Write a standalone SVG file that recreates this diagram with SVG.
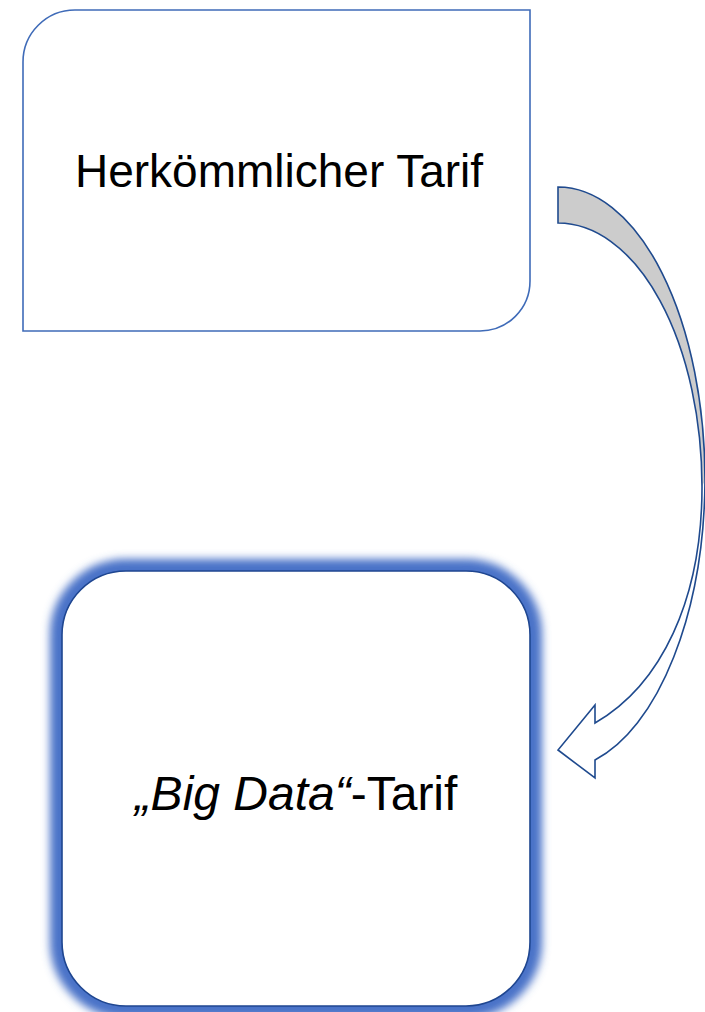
<svg xmlns="http://www.w3.org/2000/svg" width="705" height="1012" viewBox="0 0 705 1012">
  <style>
    .lbl { font-family: "Liberation Sans", Arial, sans-serif; fill: #000; }
    .box1 { fill: #fff; stroke: #3F6BB8; stroke-width: 1.6; }
    .box2 { fill: #fff; stroke: #1F4690; stroke-width: 1.6; }
    .arrow { stroke: #1F4A8E; stroke-width: 1.6; stroke-linejoin: miter; fill: none; }
  </style>
  <defs>
    <filter id="glow" x="-10%" y="-10%" width="120%" height="120%">
      <feGaussianBlur stdDeviation="4"/>
    </filter>
  </defs>
  <rect width="705" height="1012" fill="#fff"/>

  <g id="node-herkoemmlich">
    <path class="box1" d="M23,62 A52,52 0 0 1 75,10 L530,10 L530,281 A50,50 0 0 1 480,331 L23,331 Z"/>
    <text class="lbl" x="279" y="187" font-size="46" text-anchor="middle">Herkömmlicher Tarif</text>
  </g>

  <g id="connectors">
    <path fill="#fff" stroke="none" d="M558,187 A147,293 0 0 1 705,480 A147,293 0 0 1 595,760 L595,778 L558,750 L595,705 L595,723 C661,685 702,600 702,487 A144,264 0 0 0 558,223 Z"/>
    <path fill="#CCCCCC" stroke="none" d="M558,187 A147,293 0 0 1 705,480 L702,487 A144,264 0 0 0 558,223 Z"/>
    <path class="arrow" d="M558,187 A147,293 0 0 1 705,480 A147,293 0 0 1 595,760 L595,778 L558,750 L595,705 L595,723 C661,685 702,600 702,487 A144,264 0 0 0 558,223 Z"/>
  </g>

  <g id="node-bigdata">
    <rect x="62" y="571" width="468" height="435" rx="64" ry="64" fill="none" stroke="#4A72C8" stroke-width="24" filter="url(#glow)"/>
    <rect class="box2" x="62" y="571" width="468" height="435" rx="64" ry="64"/>
    <text class="lbl" x="296" y="810" font-size="48" text-anchor="middle"><tspan font-style="italic">„Big Data“</tspan>-Tarif</text>
  </g>
</svg>
